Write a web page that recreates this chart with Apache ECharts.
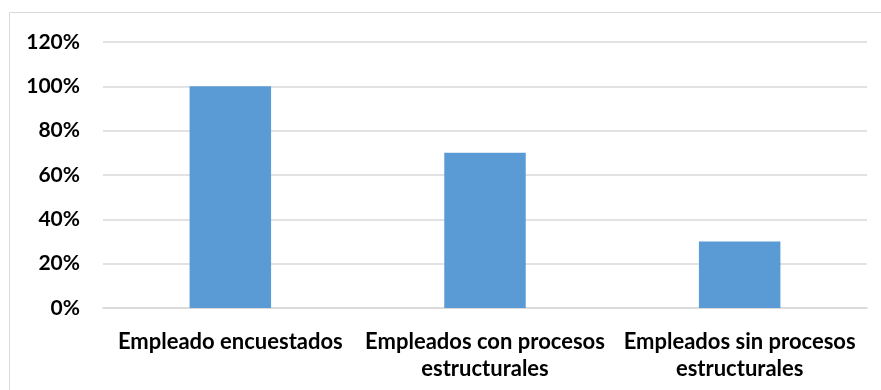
<!DOCTYPE html>
<html>
<head>
<meta charset="utf-8">
<script src="https://cdn.jsdelivr.net/npm/echarts@6/dist/echarts.min.js"></script>
<style>
html,body{margin:0;padding:0;background:#fff;}
#chart{width:881px;height:390px;}
</style>
</head>
<body>
<div id="chart"></div>
<script>
const categories = ["Empleado encuestados", "Empleados con procesos\nestructurales", "Empleados sin procesos\nestructurales"];
const values = [100, 70, 30];
const yTicks = { min: 0, max: 120, interval: 20 };

const chart = echarts.init(document.getElementById('chart'));
const font = 'Lato, "Open Sans", "Liberation Sans", sans-serif';
chart.setOption({
  animation: false,
  backgroundColor: '#fff',
  graphic: [{
    type: 'rect',
    shape: { x: 9.5, y: 12.5, width: 900, height: 400 },
    style: { fill: 'none', stroke: '#d9d9d9', lineWidth: 1 },
    silent: true
  }],
  grid: { left: 103, right: 14, top: 42, bottom: 82 },
  xAxis: {
    type: 'category',
    data: categories,
    axisLine: { show: true, lineStyle: { color: '#d9d9d9', width: 1.5 } },
    axisTick: { show: false },
    axisLabel: {
      color: '#000', fontFamily: font, fontWeight: 'bold', fontSize: 22,
      lineHeight: 27, margin: 20, interval: 0
    }
  },
  yAxis: {
    type: 'value',
    min: yTicks.min, max: yTicks.max, interval: yTicks.interval,
    axisLine: { show: false },
    axisTick: { show: false },
    splitLine: { lineStyle: { color: '#d9d9d9', width: 1.5 } },
    axisLabel: {
      color: '#000', fontFamily: font, fontWeight: 'bold', fontSize: 21,
      margin: 23, formatter: v => v + '%'
    }
  },
  series: [{
    type: 'bar',
    data: values,
    barWidth: '32%',
    itemStyle: { color: '#5B9BD5' }
  }]
});
</script>
</body>
</html>
